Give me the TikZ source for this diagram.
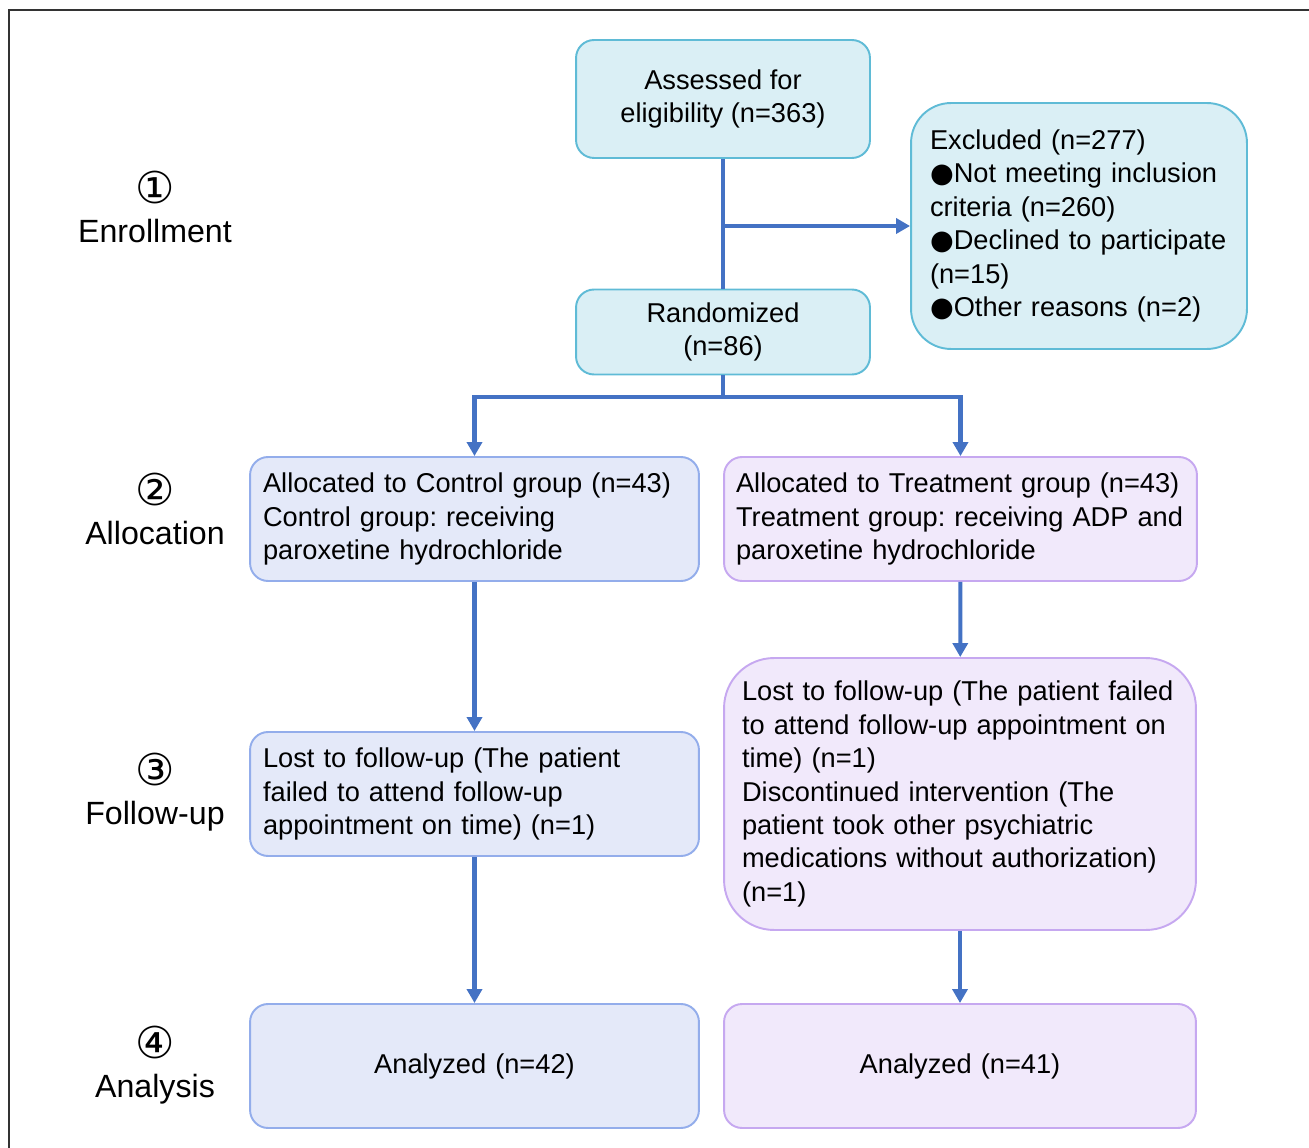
\documentclass[tikz,border=0pt]{standalone}
\usepackage{fontspec}
\setmainfont{Liberation Sans}
\newfontfamily\circfont{DejaVu Sans}
\usetikzlibrary{arrows.meta}

\definecolor{cyanfill}{HTML}{DAEFF5}
\definecolor{cyanline}{HTML}{5FBBD6}
\definecolor{bluefill}{HTML}{E4E9F9}
\definecolor{blueline}{HTML}{93ADEB}
\definecolor{purpfill}{HTML}{F1E9FB}
\definecolor{purpline}{HTML}{C6A8F0}
\definecolor{flowblue}{HTML}{4472C4}

\newcommand{\blt}{{\circfont\fontsize{15.5}{19}\selectfont ●}}

\begin{document}
\begin{tikzpicture}[x=0.02cm,y=-0.02cm,
  font=\fontsize{15.5}{19}\selectfont\frenchspacing,
  box/.style={draw,line width=1.1pt,rounded corners=0.36cm,inner ysep=0pt},
  cyanbox/.style={box,draw=cyanline,fill=cyanfill},
  ctrlbox/.style={box,draw=blueline,fill=bluefill,inner xsep=0.26cm,text width=8.46cm,align=left,minimum height=2.48cm},
  trtbox/.style={box,draw=purpline,fill=purpfill,inner xsep=0.24cm,text width=8.98cm,align=left,minimum height=2.48cm},
  stage/.style={align=center,font=\fontsize{18.3}{22}\selectfont},
  flow/.style={draw=flowblue,line width=2.3pt,-{Triangle[length=0.28cm,width=0.3cm]}},
  link/.style={draw=flowblue,line width=2.3pt}]
\useasboundingbox (0,0) rectangle (1309,1148);
\draw[line width=0.8pt,black!80] (9,1148) -- (9,10) -- (1309,10);

% stages
\node[stage] (st1) at (155,207) {{\circfont\fontsize{25}{22}\selectfont ①}\\Enrollment};
\node[stage] (st2) at (155,509) {{\circfont\fontsize{25}{22}\selectfont ②}\\Allocation};
\node[stage] (st3) at (155,792) {{\circfont\fontsize{25}{22}\selectfont ③}\\Follow-up};
\node[stage] (st4) at (155,1065) {{\circfont\fontsize{25}{22}\selectfont ④}\\Analysis};

% enrollment
\node[cyanbox,minimum width=5.88cm,minimum height=2.36cm,align=center] (assess) at (723,99) {Assessed for\\eligibility (n=363)};
\node[cyanbox,rounded corners=0.8cm,inner xsep=0.38cm,text width=5.96cm,minimum height=4.92cm,align=left] (excl) at (1079,226)
  {Excluded (n=277)\\\blt Not meeting inclusion\\criteria (n=260)\\\blt Declined to participate\\(n=15)\\\blt Other reasons (n=2)};
\node[cyanbox,minimum width=5.88cm,minimum height=1.7cm,align=center] (rand) at (723,332) {Randomized\\(n=86)};

% allocation
\node[ctrlbox] (ctrl) at (474.5,519) {Allocated to Control group (n=43)\\Control group: receiving\\paroxetine hydrochloride};
\node[trtbox] (trt) at (960.5,519) {Allocated to Treatment group (n=43)\\Treatment group: receiving ADP and\\paroxetine hydrochloride};

% follow-up
\node[ctrlbox] (ctrlfu) at (474.5,794) {Lost to follow-up (The patient\\failed to attend follow-up\\appointment on time) (n=1)};
\node[trtbox,rounded corners=1cm,inner xsep=0.36cm,text width=8.72cm,minimum height=5.44cm] (trtfu) at (960,794)
  {Lost to follow-up (The patient failed\\to attend follow-up appointment on\\time) (n=1)\\Discontinued intervention (The\\patient took other psychiatric\\medications without authorization)\\(n=1)};

% analysis
\node[ctrlbox,align=center] (ctrlan) at (474.5,1066) {Analyzed (n=42)};
\node[trtbox,align=center,text width=8.96cm] (trtan) at (960,1066) {Analyzed (n=41)};

\coordinate (split) at (723,397);
\draw[link] (assess.south) -- (rand.north);
\draw[flow] (assess.south |- excl.west) -- (excl.west);
\draw[link] (rand.south) -- (split);
\draw[flow] (split) -| (ctrl.north);
\draw[flow] (split) -| (trt.north);
\draw[flow] (ctrl) -- (ctrlfu);
\draw[flow] (trt) -- (trtfu);
\draw[flow] (ctrlfu) -- (ctrlan);
\draw[flow] (trtfu) -- (trtan);
\end{tikzpicture}
\end{document}
